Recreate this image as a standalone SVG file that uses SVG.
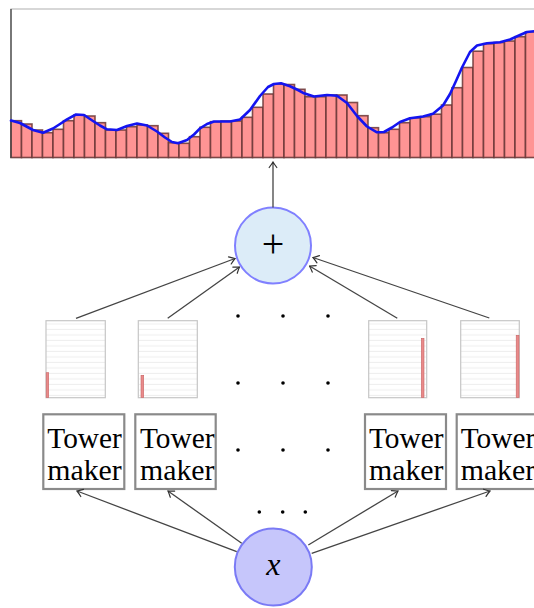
<svg xmlns="http://www.w3.org/2000/svg" width="534" height="608" viewBox="0 0 534 608">
  <defs>
    <style>
      .bar { fill: #ff9494; stroke: #6a3636; stroke-width: 1.6; stroke-opacity: 0.85; }
      .curve { fill: none; stroke: #1414f0; stroke-width: 2.6; stroke-linejoin: round; stroke-linecap: round; }
      .mini { fill: url(#rules); stroke: #c6c6c6; stroke-width: 1.2; }
      .tower { fill: #e98a8a; stroke: #c86464; stroke-width: 0.6; }
      .maker { fill: #ffffff; stroke: #8a8a8a; stroke-width: 2.2; }
      .serif { font-family: "Liberation Serif", "DejaVu Serif", "Noto Serif", serif; fill: #000; }
      .label { font-size: 30px; }
      .edge { fill: none; stroke: #444; stroke-width: 1.3; marker-end: url(#tip); }
      .dot { fill: #000; }
    </style>
    <pattern id="rules" patternUnits="userSpaceOnUse" width="8" height="5.5">
      <rect width="8" height="5.5" fill="#ffffff"/>
      <line x1="0" y1="5" x2="8" y2="5" stroke="#eeeeee" stroke-width="1"/>
    </pattern>
    <marker id="tip" markerUnits="userSpaceOnUse" viewBox="-7 -5 8 10" markerWidth="8" markerHeight="10" refX="0" refY="0" orient="auto">
      <path d="M-5.5,-3.8 Q-1.6,-0.9 0,0 Q-1.6,0.9 -5.5,3.8" fill="none" stroke="#333" stroke-width="1.2" stroke-linecap="round"/>
    </marker>
  </defs>

  <!-- summed histogram with the smooth target curve -->
  <g id="sum-chart">
    <rect x="11" y="9" width="525" height="148.5" fill="#ffffff" stroke="#bdbdbd" stroke-width="1.2"/>
    <g id="bars">
      <rect class="bar" x="11" y="120.7" width="10.5" height="36.8"/>
      <rect class="bar" x="21.5" y="124" width="10.5" height="33.5"/>
      <rect class="bar" x="32" y="130" width="10.5" height="27.5"/>
      <rect class="bar" x="42.5" y="132.7" width="10.5" height="24.8"/>
      <rect class="bar" x="53" y="129.3" width="10.5" height="28.2"/>
      <rect class="bar" x="63.5" y="120.7" width="10.5" height="36.8"/>
      <rect class="bar" x="74" y="115" width="10.5" height="42.5"/>
      <rect class="bar" x="84.5" y="116" width="10.5" height="41.5"/>
      <rect class="bar" x="95" y="122.7" width="10.5" height="34.8"/>
      <rect class="bar" x="105.5" y="130" width="10.5" height="27.5"/>
      <rect class="bar" x="116" y="130" width="10.5" height="27.5"/>
      <rect class="bar" x="126.5" y="126.7" width="10.5" height="30.8"/>
      <rect class="bar" x="137" y="125" width="10.5" height="32.5"/>
      <rect class="bar" x="147.5" y="125.7" width="10.5" height="31.8"/>
      <rect class="bar" x="158" y="133.3" width="10.5" height="24.2"/>
      <rect class="bar" x="168.5" y="142.7" width="10.5" height="14.8"/>
      <rect class="bar" x="179" y="143.3" width="10.5" height="14.2"/>
      <rect class="bar" x="189.5" y="136.7" width="10.5" height="20.8"/>
      <rect class="bar" x="200" y="127.3" width="10.5" height="30.2"/>
      <rect class="bar" x="210.5" y="121.7" width="10.5" height="35.8"/>
      <rect class="bar" x="221" y="121" width="10.5" height="36.5"/>
      <rect class="bar" x="231.5" y="121" width="10.5" height="36.5"/>
      <rect class="bar" x="242" y="117.3" width="10.5" height="40.2"/>
      <rect class="bar" x="252.5" y="107.3" width="10.5" height="50.2"/>
      <rect class="bar" x="263" y="94" width="10.5" height="63.5"/>
      <rect class="bar" x="273.5" y="84" width="10.5" height="73.5"/>
      <rect class="bar" x="284" y="84.5" width="10.5" height="73"/>
      <rect class="bar" x="294.5" y="89.3" width="10.5" height="68.2"/>
      <rect class="bar" x="305" y="96.7" width="10.5" height="60.8"/>
      <rect class="bar" x="315.5" y="96.7" width="10.5" height="60.8"/>
      <rect class="bar" x="326" y="95" width="10.5" height="62.5"/>
      <rect class="bar" x="336.5" y="95" width="10.5" height="62.5"/>
      <rect class="bar" x="347" y="102.5" width="10.5" height="55"/>
      <rect class="bar" x="357.5" y="115.7" width="10.5" height="41.8"/>
      <rect class="bar" x="368" y="127.7" width="10.5" height="29.8"/>
      <rect class="bar" x="378.5" y="132.7" width="10.5" height="24.8"/>
      <rect class="bar" x="389" y="129.3" width="10.5" height="28.2"/>
      <rect class="bar" x="399.5" y="122.7" width="10.5" height="34.8"/>
      <rect class="bar" x="410" y="117.8" width="10.5" height="39.7"/>
      <rect class="bar" x="420.5" y="116.7" width="10.5" height="40.8"/>
      <rect class="bar" x="431" y="114.2" width="10.5" height="43.3"/>
      <rect class="bar" x="441.5" y="105" width="10.5" height="52.5"/>
      <rect class="bar" x="452" y="87.7" width="10.5" height="69.8"/>
      <rect class="bar" x="462.5" y="67.5" width="10.5" height="90"/>
      <rect class="bar" x="473" y="51.2" width="10.5" height="106.3"/>
      <rect class="bar" x="483.5" y="43.7" width="10.5" height="113.8"/>
      <rect class="bar" x="494" y="42.5" width="10.5" height="115"/>
      <rect class="bar" x="504.5" y="41" width="10.5" height="116.5"/>
      <rect class="bar" x="515" y="36.7" width="10.5" height="120.8"/>
      <rect class="bar" x="525.5" y="31.8" width="10.5" height="125.7"/>
    </g>
    <line x1="11" y1="9" x2="11" y2="158" stroke="#444" stroke-width="1.3"/>
    <path class="curve" d="M11,120.5 L20,123 L33,130 L43,132.8 L53,128.5 L60,124 L67,119.3 L76,114.5 L84,115 L93,121 L100,125.5 L107,129.3 L117,130 L127,126 L137,123.5 L147,125.5 L157,131.5 L165,137.5 L172,142 L178,143.3 L187,140 L194,134.5 L200,128.3 L207,124 L214,121.5 L230,121.5 L240,119.5 L250,110 L260,96 L268,87 L274,84 L281,83.3 L290,86.3 L298,90 L304,93.3 L314,96.5 L327,95 L337,95.7 L347,103 L357,116 L367,126.5 L377,132.3 L384,132 L392,127.5 L400,122 L410,118.3 L423,116.5 L433,113.8 L443,105.5 L450,94 L456,81 L462,67.5 L470,52 L477,45.5 L487,43.3 L500,42.3 L510,39.5 L520,35 L527,32 L536,31"/>
  </g>

  <!-- adder -->
  <g id="sum">
    <circle cx="273" cy="245.5" r="38" fill="#dcecf8" stroke="#8080ff" stroke-width="2"/>
    <text class="serif" x="273" y="257" text-anchor="middle" font-size="40">+</text>
  </g>

  <!-- tower previews -->
  <g id="preview-1">
    <rect class="mini" x="46" y="320.7" width="59.3" height="77"/>
    <rect class="tower" x="46.2" y="372.7" width="2.5" height="24.8"/>
  </g>
  <g id="preview-2">
    <rect class="mini" x="138.3" y="320.7" width="59" height="77"/>
    <rect class="tower" x="141" y="375.3" width="2.7" height="22.2"/>
  </g>
  <g id="preview-3">
    <rect class="mini" x="368.7" y="320.7" width="58" height="77"/>
    <rect class="tower" x="421.3" y="338.3" width="2.7" height="59.2"/>
  </g>
  <g id="preview-4">
    <rect class="mini" x="460.7" y="320.7" width="58.6" height="77"/>
    <rect class="tower" x="516.2" y="335.3" width="2.8" height="62.2"/>
  </g>

  <!-- tower makers -->
  <g id="maker-1">
    <rect class="maker" x="43.3" y="414.3" width="81" height="74.7"/>
    <text class="serif label" x="47.3" y="448" textLength="74.5" lengthAdjust="spacingAndGlyphs">Tower</text>
    <text class="serif label" x="47.3" y="480" textLength="74.5" lengthAdjust="spacingAndGlyphs">maker</text>
  </g>
  <g id="maker-2">
    <rect class="maker" x="135.3" y="414.3" width="80.4" height="74.7"/>
    <text class="serif label" x="140" y="448" textLength="74.5" lengthAdjust="spacingAndGlyphs">Tower</text>
    <text class="serif label" x="140" y="480" textLength="74.5" lengthAdjust="spacingAndGlyphs">maker</text>
  </g>
  <g id="maker-3">
    <rect class="maker" x="365" y="414.3" width="81" height="74.7"/>
    <text class="serif label" x="369" y="448" textLength="74.5" lengthAdjust="spacingAndGlyphs">Tower</text>
    <text class="serif label" x="369" y="480" textLength="74.5" lengthAdjust="spacingAndGlyphs">maker</text>
  </g>
  <g id="maker-4">
    <rect class="maker" x="456.7" y="414.3" width="81" height="74.7"/>
    <text class="serif label" x="460.7" y="448" textLength="74.5" lengthAdjust="spacingAndGlyphs">Tower</text>
    <text class="serif label" x="460.7" y="480" textLength="74.5" lengthAdjust="spacingAndGlyphs">maker</text>
  </g>

  <!-- input -->
  <g id="input">
    <circle cx="273.3" cy="567" r="38.5" fill="#c6c6fb" stroke="#7a7af5" stroke-width="2"/>
    <text class="serif" x="273.3" y="575" text-anchor="middle" font-style="italic" font-size="32">x</text>
  </g>

  <!-- ellipses for the omitted columns -->
  <g id="ellipses">
    <circle class="dot" cx="238" cy="316" r="1.8"/>
    <circle class="dot" cx="283" cy="316" r="1.8"/>
    <circle class="dot" cx="328" cy="316" r="1.8"/>
    <circle class="dot" cx="238" cy="383" r="1.8"/>
    <circle class="dot" cx="283" cy="383" r="1.8"/>
    <circle class="dot" cx="328" cy="383" r="1.8"/>
    <circle class="dot" cx="238" cy="450" r="1.8"/>
    <circle class="dot" cx="283" cy="450" r="1.8"/>
    <circle class="dot" cx="328" cy="450" r="1.8"/>
    <circle class="dot" cx="259.3" cy="512" r="1.8"/>
    <circle class="dot" cx="282.7" cy="512" r="1.8"/>
    <circle class="dot" cx="305.3" cy="512" r="1.8"/>
  </g>

  <!-- connectors -->
  <g id="connectors">
    <line class="edge" x1="273" y1="207.5" x2="273" y2="162"/>
    <line class="edge" x1="76" y1="318.3" x2="235" y2="258.5"/>
    <line class="edge" x1="167.7" y1="318.3" x2="239.5" y2="267"/>
    <line class="edge" x1="397.3" y1="318.3" x2="309.5" y2="266"/>
    <line class="edge" x1="489.3" y1="318" x2="313" y2="257.5"/>
    <line class="edge" x1="236.7" y1="551.7" x2="77" y2="491"/>
    <line class="edge" x1="241.7" y1="543.3" x2="168" y2="491"/>
    <line class="edge" x1="308.3" y1="545" x2="398" y2="491"/>
    <line class="edge" x1="311.7" y1="553.3" x2="490" y2="491"/>
  </g>
</svg>
